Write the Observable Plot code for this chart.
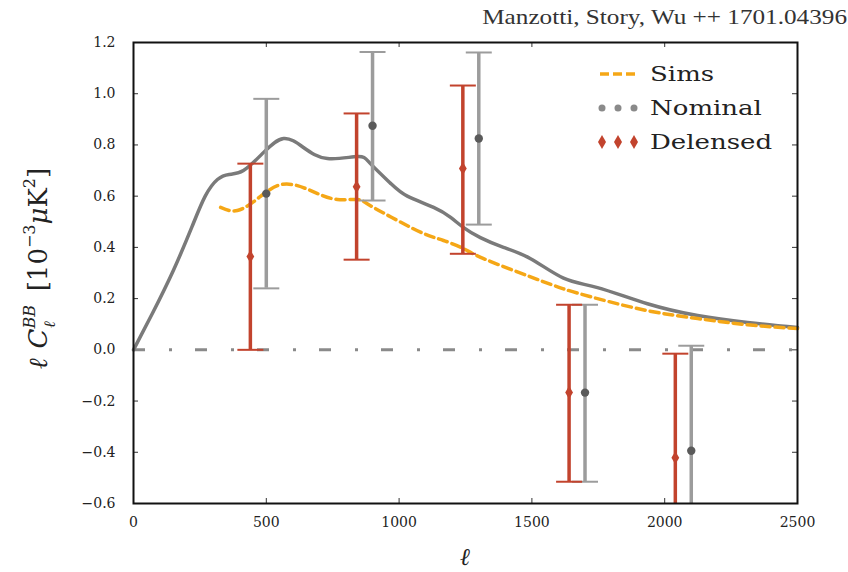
<!DOCTYPE html>
<html><head><meta charset="utf-8">
<script src="https://cdn.jsdelivr.net/npm/d3@7"></script>
<script src="https://cdn.jsdelivr.net/npm/@observablehq/plot@0.6"></script>
<style>
body{margin:0;background:#fff;}
#wrap{position:relative;width:848px;height:572px;overflow:hidden;background:#fff;}
#title{position:absolute;right:1px;top:5px;font-family:"Liberation Serif",serif;font-size:21px;color:#333;transform:scaleX(1.2);transform-origin:right top;white-space:nowrap;}
#legend{position:absolute;left:598px;top:57px;font-family:"DejaVu Serif",serif;font-size:20px;color:#222;line-height:34px;}
#legend .row{display:flex;align-items:center;height:34px;}
#legend svg{margin-right:12px;}
#legend span{display:inline-block;transform:scaleX(1.3);transform-origin:left center;}
</style></head><body>
<div id="wrap"><div id="chart"></div><div id="title">Manzotti, Story, Wu ++ 1701.04396</div><div id="legend"></div></div>
<script>
// Theory (gray solid) curve
const theoryEll = [0, 70, 150, 220, 270, 316, 360, 414, 489, 565, 640, 730, 843, 892, 968, 1031, 1130, 1194, 1243, 1306, 1393, 1495, 1619, 1747, 1935, 2124, 2312, 2500];
const theoryVal = [0, 0.14, 0.31, 0.48, 0.60, 0.665, 0.685, 0.70, 0.77, 0.825, 0.79, 0.747, 0.755, 0.727, 0.65, 0.60, 0.556, 0.517, 0.477, 0.438, 0.40, 0.356, 0.28, 0.243, 0.18, 0.134, 0.107, 0.087];
// Sims (orange dashed)
const simsEll = [328, 391, 467, 542, 617, 693, 768, 843, 892, 994, 1092, 1167, 1243, 1318, 1495, 1619, 1747, 1935, 2124, 2312, 2500];
const simsVal = [0.556, 0.544, 0.59, 0.641, 0.641, 0.61, 0.587, 0.587, 0.563, 0.505, 0.454, 0.427, 0.395, 0.356, 0.285, 0.238, 0.2, 0.153, 0.122, 0.098, 0.083];
// Nominal band powers
const nomEll = [500, 900, 1300, 1700, 2100];
const nomVal = [0.61, 0.875, 0.825, -0.167, -0.394];
const nomLo = [0.24, 0.583, 0.489, -0.515, -0.80];
const nomHi = [0.98, 1.163, 1.161, 0.176, 0.016];
// Delensed band powers
const delEll = [440, 840, 1240, 1640, 2040];
const delVal = [0.364, 0.637, 0.708, -0.167, -0.421];
const delLo = [0.0, 0.352, 0.375, -0.515, -0.83];
const delHi = [0.727, 0.923, 1.032, 0.176, -0.015];
// Ticks
const xTicks = [0, 500, 1000, 1500, 2000, 2500];
const yTicks = [-0.6, -0.4, -0.2, 0.0, 0.2, 0.4, 0.6, 0.8, 1.0, 1.2];

const theory = theoryEll.map((l, i) => ({l, v: theoryVal[i]}));
const sims = simsEll.map((l, i) => ({l, v: simsVal[i]}));
const nominal = nomEll.map((l, i) => ({l, v: nomVal[i], lo: nomLo[i], hi: nomHi[i]}));
const delensed = delEll.map((l, i) => ({l, v: delVal[i], lo: delLo[i], hi: delHi[i]}));

const RED = "#c2432d", GRAYBAR = "#9c9c9c", GRAYDOT = "#5a5a5a", ORANGE = "#f5a716", LINE = "#7a7a7a";

const capSymbol = {draw(ctx, size) { const r = Math.sqrt(size / Math.PI); ctx.moveTo(-r, 0); ctx.lineTo(r, 0); }};
const diamondSymbol = {draw(ctx, size) { const r = Math.sqrt(size / Math.PI); ctx.moveTo(0, -r); ctx.lineTo(r * 0.6, 0); ctx.lineTo(0, r); ctx.lineTo(-r * 0.6, 0); ctx.closePath(); }};

const W = 848, H = 572, mL = 133, mR = 51, mT = 42, mB = 69;
const fw = W - mL - mR, fh = H - mT - mB;

const chart = Plot.plot({
  width: W, height: H,
  marginLeft: mL, marginRight: mR, marginTop: mT, marginBottom: mB,
  style: {fontFamily: "DejaVu Serif", fontSize: "14px", color: "#222", background: "#fff"},
  x: {domain: [0, 2500], label: null},
  y: {domain: [-0.6, 1.2], label: null},
  marks: [
    Plot.tickX(xTicks.slice(1, -1), {x: d => d, insetTop: fh - 5, stroke: "#333", strokeWidth: 1}),
    Plot.tickX(xTicks.slice(1, -1), {x: d => d, insetBottom: fh - 5, stroke: "#333", strokeWidth: 1}),
    Plot.tickY(yTicks.slice(1, -1), {y: d => d, insetRight: fw - 5, stroke: "#333", strokeWidth: 1}),
    Plot.tickY(yTicks.slice(1, -1), {y: d => d, insetLeft: fw - 5, stroke: "#333", strokeWidth: 1}),
    Plot.ruleY([0], {stroke: "#8a8a8a", strokeWidth: 3, strokeDasharray: "12,24,3,23"}),
    Plot.line(theory, {x: "l", y: "v", stroke: LINE, strokeWidth: 3.5, curve: "natural"}),
    Plot.line(sims, {x: "l", y: "v", stroke: ORANGE, strokeWidth: 3.5, strokeDasharray: "9,5", curve: "natural"}),
    Plot.ruleX(nominal, {x: "l", y1: "lo", y2: "hi", stroke: GRAYBAR, strokeWidth: 3.5, clip: true}),
    Plot.dot(nominal, {x: "l", y: "hi", symbol: capSymbol, r: 13, stroke: GRAYBAR, strokeWidth: 2, fill: "none"}),
    Plot.dot(nominal.filter(d => d.lo >= -0.6), {x: "l", y: "lo", symbol: capSymbol, r: 13, stroke: GRAYBAR, strokeWidth: 2, fill: "none"}),
    Plot.dot(nominal, {x: "l", y: "v", r: 4.2, fill: GRAYDOT, stroke: "none"}),
    Plot.ruleX(delensed, {x: "l", y1: "lo", y2: "hi", stroke: RED, strokeWidth: 3.5, clip: true}),
    Plot.dot(delensed, {x: "l", y: "hi", symbol: capSymbol, r: 13, stroke: RED, strokeWidth: 2, fill: "none"}),
    Plot.dot(delensed.filter(d => d.lo >= -0.6), {x: "l", y: "lo", symbol: capSymbol, r: 13, stroke: RED, strokeWidth: 2, fill: "none"}),
    Plot.dot(delensed, {x: "l", y: "v", symbol: diamondSymbol, r: 6.5, fill: RED, stroke: "none"}),
    Plot.axisX({ticks: xTicks, tickSize: 0, tickPadding: 14, tickFormat: d => String(d), fill: "#222"}),
    Plot.axisY({ticks: yTicks, tickSize: 0, tickPadding: 18, tickFormat: d3.format(".1f"), fill: "#222"}),
    Plot.frame({stroke: "#111", strokeWidth: 2})
  ]
});
document.getElementById("chart").appendChild(chart);

const svg = d3.select(chart);
// y-axis label
const yl = svg.append("text")
  .attr("transform", `translate(47,${mT + fh / 2 - 4}) rotate(-90)`)
  .attr("text-anchor", "middle").attr("font-family", "DejaVu Serif").attr("font-size", 26).attr("fill", "#222");
yl.append("tspan").attr("font-style", "italic").text("ℓ");
yl.append("tspan").attr("font-style", "italic").attr("dx", 10).text("C");
yl.append("tspan").attr("font-style", "italic").attr("font-size", 16).attr("dy", -12).text("BB");
yl.append("tspan").attr("font-style", "italic").attr("font-size", 16).attr("dx", -23).attr("dy", 20).text("ℓ");
yl.append("tspan").attr("dx", 30).attr("dy", -8).text("[10");
yl.append("tspan").attr("font-size", 16).attr("dy", -12).text("−3");
yl.append("tspan").attr("font-style", "italic").attr("dy", 12).text("μ");
yl.append("tspan").text("K");
yl.append("tspan").attr("font-size", 16).attr("dy", -12).text("2");
yl.append("tspan").attr("dy", 12).text("]");
// x-axis label
svg.append("text").attr("x", mL + fw / 2).attr("y", H - 7)
  .attr("text-anchor", "middle").attr("font-family", "DejaVu Serif").attr("font-style", "italic")
  .attr("font-size", 24).attr("fill", "#222").text("ℓ");

// Legend
const legend = d3.select("#legend");
const items = [
  {name: "Sims", kind: "dash"},
  {name: "Nominal", kind: "dot"},
  {name: "Delensed", kind: "diamond"}
];
items.forEach(it => {
  const row = legend.append("div").attr("class", "row");
  const s = row.append("svg").attr("width", 40).attr("height", 20);
  if (it.kind === "dash") {
    s.append("line").attr("x1", 2).attr("x2", 38).attr("y1", 10).attr("y2", 10)
      .attr("stroke", ORANGE).attr("stroke-width", 3.5).attr("stroke-dasharray", "9,4");
  } else if (it.kind === "dot") {
    [4, 20, 36].forEach(cx => s.append("circle").attr("cx", cx).attr("cy", 10).attr("r", 3.5).attr("fill", "#8a8a8a"));
  } else {
    [4, 20, 36].forEach(cx => s.append("path").attr("d", `M${cx},3L${cx + 4},10L${cx},17L${cx - 4},10Z`).attr("fill", RED));
  }
  row.append("span").text(it.name);
});
</script>
</body></html>
